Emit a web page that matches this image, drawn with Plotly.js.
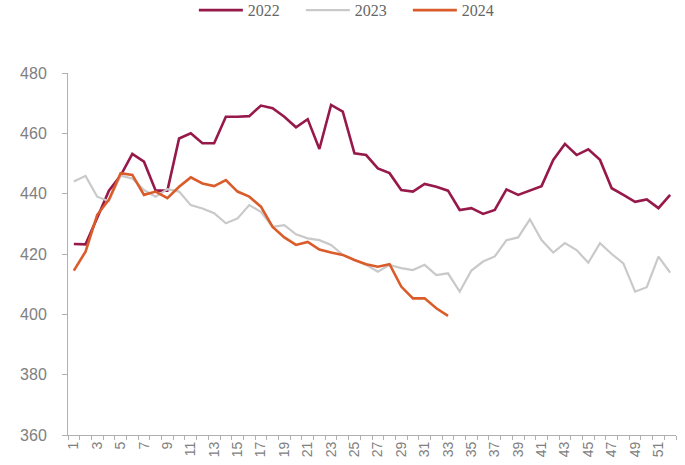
<!DOCTYPE html>
<html>
<head>
<meta charset="utf-8">
<script src="https://cdn.plot.ly/plotly-3.0.1.min.js"></script>
<style>html,body{margin:0;padding:0;background:#fff;}#chart{width:685px;height:465px;}</style>
</head>
<body>
<div id="chart"></div>
<script>
const weeks = [1,2,3,4,5,6,7,8,9,10,11,12,13,14,15,16,17,18,19,20,21,22,23,24,25,26,27,28,29,30,31,32,33,34,35,36,37,38,39,40,41,42,43,44,45,46,47,48,49,50,51,52];
const weekLabels = ["1","3","5","7","9","11","13","15","17","19","21","23","25","27","29","31","33","35","37","39","41","43","45","47","49","51"];
const weekLabelVals = [1,3,5,7,9,11,13,15,17,19,21,23,25,27,29,31,33,35,37,39,41,43,45,47,49,51];

const s2022 = [423.3,423.2,432,441,446,453.2,450.6,441,441,458.3,460,456.7,456.7,465.5,465.5,465.7,469.2,468.3,465.5,462,464.7,454.8,469.4,467.2,453.4,452.8,448.4,446.8,441.2,440.7,443.2,442.3,441,434.6,435.2,433.3,434.6,441.4,439.6,441,442.5,451.2,456.5,452.8,454.7,451.2,441.8,439.6,437.3,438.1,435.2,439.6];
const s2023 = [444,445.9,439,437.5,446,445,441.2,439,441.5,440.7,436.2,435.1,433.5,430.2,431.8,436.2,434,429,429.6,426.5,425.2,424.6,423,419.7,418,416.4,414.1,416.4,415.3,414.7,416.4,413,413.6,407.5,414.5,417.5,419.2,424.6,425.5,431.5,424.6,420.5,423.6,421.3,417.1,423.6,420,416.9,407.5,409,419.1,413.8];
const s2024 = [414.5,420.8,433,438,446.8,446.2,439.6,440.7,438.5,442.3,445.4,443.4,442.5,444.5,440.7,439,435.7,429,425.5,423,424,421.5,420.5,419.7,418,416.6,415.8,416.6,409.2,405.3,405.3,402,399.5];

const traces = [
  {x: weeks, y: s2022, name: '2022', type: 'scatter', mode: 'lines', line: {color: '#96194A', width: 2.6}},
  {x: weeks, y: s2023, name: '2023', type: 'scatter', mode: 'lines', line: {color: '#C9C9C9', width: 2.2}},
  {x: weeks.slice(0, s2024.length), y: s2024, name: '2024', type: 'scatter', mode: 'lines', line: {color: '#DA5C2A', width: 2.6}}
];

const layout = {
  width: 685, height: 465,
  margin: {l: 68, r: 9, t: 73, b: 30},
  paper_bgcolor: '#ffffff', plot_bgcolor: '#ffffff',
  showlegend: true,
  legend: {orientation: 'h', xref: 'container', yref: 'container',
           x: 0.283, xanchor: 'left', y: 0.978, yanchor: 'middle',
           font: {family: 'Liberation Serif, serif', size: 16, color: '#666666'},
           traceorder: 'normal', itemwidth: 44, entrywidth: 48, entrywidthmode: 'pixels',
           tracegroupgap: 0},
  xaxis: {
    range: [0.5, 52.5], tickmode: 'array', tickvals: weekLabelVals, ticktext: weekLabels,
    tickangle: -90, ticks: '', showgrid: false, zeroline: false,
    showline: true, linecolor: '#B0B0B0', linewidth: 1,
    tickfont: {family: 'Liberation Sans, Arial, sans-serif', size: 14, color: '#808080'},
    minor: {tick0: 0.5, dtick: 1, ticks: 'outside', ticklen: 4, tickcolor: '#B0B0B0', showgrid: false}
  },
  yaxis: {
    range: [360, 480], tickvals: [360,380,400,420,440,460,480],
    ticks: 'outside', ticklen: 5, tickcolor: '#B0B0B0', showgrid: false, zeroline: false,
    showline: true, linecolor: '#B0B0B0', linewidth: 1, ticklabelstandoff: 12,
    tickfont: {family: 'Liberation Sans, Arial, sans-serif', size: 16, color: '#808080'}
  }
};

Plotly.newPlot('chart', traces, layout, {displayModeBar: false, staticPlot: true});
</script>
</body>
</html>
